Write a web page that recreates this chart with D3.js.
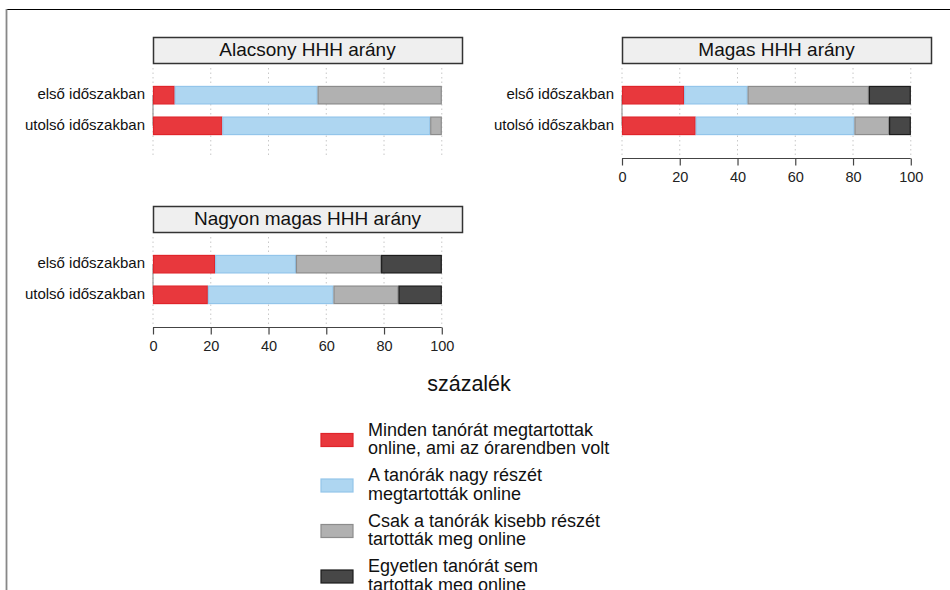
<!DOCTYPE html>
<html>
<head>
<meta charset="utf-8">
<script src="https://cdn.jsdelivr.net/npm/d3@7"></script>
<style>
  html, body { margin: 0; padding: 0; background: #fff; }
  svg { display: block; font-family: "Liberation Sans", Arial, sans-serif; }
</style>
</head>
<body>
<svg id="chart" width="950" height="590"></svg>
<script>
// Periods shown as rows in every panel
const categories = ["első időszakban", "utolsó időszakban"];

// Response categories (stack order, left to right)
const seriesNames = [
  ["Minden tanórát megtartottak", "online, ami az órarendben volt"],
  ["A tanórák nagy részét", "megtartották online"],
  ["Csak a tanórák kisebb részét", "tartották meg online"],
  ["Egyetlen tanórát sem", "tartottak meg online"]
];

// Percentages per panel and period, in series order
const alacsonyElso    = [7.5, 49.5, 43.0, 0.0];
const alacsonyUtolso  = [24.0, 72.0, 4.0, 0.0];
const magasElso       = [21.5, 22.0, 42.0, 14.5];
const magasUtolso     = [25.5, 55.0, 12.0, 7.5];
const nagyonElso      = [21.5, 28.0, 29.5, 21.0];
const nagyonUtolso    = [19.0, 43.5, 22.5, 15.0];

const panelTitles = ["Alacsony HHH arány", "Magas HHH arány", "Nagyon magas HHH arány"];
const xTicks = [0, 20, 40, 60, 80, 100];

const fills   = ["#e8383d", "#aed6f1", "#b1b1b1", "#474747"];
const strokes = ["#e0242a", "#93c5ea", "#8c8c8c", "#1c1c1c"];

const panels = [
  { title: panelTitles[0], rows: [alacsonyElso, alacsonyUtolso], x0: 153, top: 37, stripH: 26, bottom: 158, axis: false },
  { title: panelTitles[1], rows: [magasElso, magasUtolso],       x0: 622, top: 37, stripH: 26, bottom: 158, axis: true },
  { title: panelTitles[2], rows: [nagyonElso, nagyonUtolso],     x0: 153, top: 206, stripH: 26, bottom: 327, axis: true }
];
const panelW = 309;

const svg = d3.select("#chart");

// outer figure frame (top and left edges)
svg.append("line").attr("x1", 6).attr("x2", 950).attr("y1", 9.5).attr("y2", 9.5)
  .attr("stroke", "#000").attr("stroke-width", 1.2);
svg.append("line").attr("x1", 6.5).attr("x2", 6.5).attr("y1", 9).attr("y2", 590)
  .attr("stroke", "#888").attr("stroke-width", 1.8);

const keys = d3.range(seriesNames.length);

panels.forEach(p => {
  const g = svg.append("g");
  const plotTop = p.top + p.stripH;
  const x = d3.scaleLinear().domain([0, 107]).range([p.x0, p.x0 + panelW]);
  const y = d3.scalePoint().domain(categories).range([plotTop, p.bottom]).padding(1.05);
  const barH = 17.5;

  // strip header
  g.append("rect").attr("x", p.x0 + 0.5).attr("y", p.top + 0.5)
    .attr("width", panelW).attr("height", p.stripH)
    .attr("fill", "#efefef").attr("stroke", "#333").attr("stroke-width", 1.5);
  g.append("text").attr("x", p.x0 + panelW / 2).attr("y", p.top + p.stripH / 2 + 1)
    .attr("text-anchor", "middle").attr("dominant-baseline", "middle")
    .attr("font-size", 19).attr("fill", "#111").text(p.title);

  // dotted vertical grid
  g.selectAll(".grid").data(xTicks).join("line")
    .attr("x1", d => x(d)).attr("x2", d => x(d))
    .attr("y1", plotTop + 5).attr("y2", p.bottom - 3)
    .attr("stroke", "#c8c8c8").attr("stroke-width", 1).attr("stroke-dasharray", "1.5,3");

  // y axis line between first and last category
  g.append("line").attr("x1", x(0)).attr("x2", x(0))
    .attr("y1", y(categories[0])).attr("y2", y(categories[categories.length - 1]))
    .attr("stroke", "#999").attr("stroke-width", 1.2);

  // category labels
  g.selectAll(".ylab").data(categories).join("text")
    .attr("x", x(0) - 8).attr("y", d => y(d))
    .attr("text-anchor", "end").attr("dominant-baseline", "middle")
    .attr("font-size", 15).attr("fill", "#111").text(d => d);

  // stacked bars
  const table = categories.map((c, i) => {
    const o = { cat: c };
    keys.forEach(k => o[k] = p.rows[i][k]);
    return o;
  });
  const stacked = d3.stack().keys(keys)(table);
  stacked.forEach(layer => {
    const k = layer.key;
    g.selectAll(null).data(layer.filter(d => d[1] - d[0] > 0)).join("rect")
      .attr("x", d => x(d[0]) + 0.5)
      .attr("y", d => y(d.data.cat) - barH / 2)
      .attr("width", d => Math.max(0, x(d[1]) - x(d[0]) - 1))
      .attr("height", barH)
      .attr("fill", fills[k]).attr("stroke", strokes[k]).attr("stroke-width", 1.2);
  });

  // x axis
  if (p.axis) {
    const axisY = p.bottom + 0.5;
    const ax = g.append("g").attr("transform", `translate(0,${axisY})`)
      .call(d3.axisBottom(x).tickValues(xTicks).tickSize(7).tickPadding(6).tickSizeOuter(0));
    ax.select(".domain").attr("stroke", "#444").attr("stroke-width", 1.2)
      .attr("d", `M${x(0)},0H${x(100)}`);
    ax.selectAll(".tick line").attr("stroke", "#444").attr("stroke-width", 1.2);
    ax.selectAll(".tick text").attr("font-size", 14.5).attr("fill", "#222")
      .attr("font-family", "\"Liberation Sans\", Arial, sans-serif");
  }
});

// shared x axis title
svg.append("text").attr("x", 469).attr("y", 385)
  .attr("text-anchor", "middle").attr("dominant-baseline", "middle")
  .attr("font-size", 21.5).attr("fill", "#111").text("százalék");

// legend
const legend = svg.append("g");
const legendTop = 440, legendStep = 45.5;
seriesNames.forEach((lines, i) => {
  const cy = legendTop + i * legendStep;
  legend.append("rect").attr("x", 321).attr("y", cy - 6.5).attr("width", 32).attr("height", 13)
    .attr("fill", fills[i]).attr("stroke", strokes[i]).attr("stroke-width", 1.2);
  const t = legend.append("text").attr("x", 368).attr("font-size", 18).attr("fill", "#111");
  lines.forEach((ln, j) => {
    t.append("tspan").attr("x", 368).attr("y", cy - 9 + j * 18.5)
      .attr("dominant-baseline", "middle").text(ln);
  });
});
</script>
</body>
</html>
